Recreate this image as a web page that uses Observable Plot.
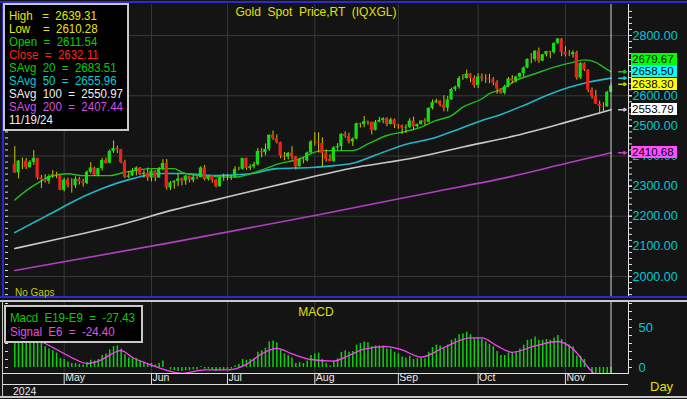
<!DOCTYPE html>
<html><head><meta charset="utf-8">
<script src="https://cdn.jsdelivr.net/npm/d3@7"></script>
<script src="https://cdn.jsdelivr.net/npm/@observablehq/plot@0.6"></script>
<style>
html,body{margin:0;padding:0;background:#141414;}
#root{position:relative;width:687px;height:399px;overflow:hidden;background:#141414;font-family:"Liberation Sans",Arial,sans-serif;}
.abs{position:absolute;white-space:pre;line-height:1;}
svg{display:block}
</style></head><body><div id="root"></div>
<script>
// ---------- DATA ----------
const openP = [2373,2344,2383,2383,2361,2379,2392,2327,2322,2316,
2332,2337,2335,2286,2320,2303,2301,2323,2314,2309,
2346,2360,2336,2358,2385,2376,2415,2425,2420,2378,
2329,2334,2350,2360,2338,2343,2327,2350,2327,2355,
2375,2294,2311,2316,2324,2317,2333,2319,2329,2328,
2360,2322,2334,2319,2298,2327,2326,2327,2330,2356,
2356,2392,2359,2364,2371,2415,2411,2422,2469,2459,
2445,2400,2396,2409,2397,2364,2387,2384,2410,2447,
2446,2442,2409,2389,2382,2427,2431,2472,2465,2447,
2456,2507,2504,2514,2512,2485,2512,2518,2524,2505,
2520,2503,2500,2493,2495,2516,2497,2505,2516,2512,
2558,2577,2582,2569,2559,2586,2621,2628,2657,2657,
2672,2658,2634,2662,2657,2656,2653,2643,2622,2608,
2630,2656,2649,2662,2674,2692,2721,2720,2748,2715,
2736,2747,2743,2774,2788,2744,2736,2736,2743,2659,
2707,2685,2618,2598,2572,2565,2563,2611.54];
const highP = [2431,2385,2393,2392,2385,2418,2392,2336,2338,2338,
2352,2346,2336,2326,2327,2325,2331,2329,2323,2350,
2378,2363,2359,2392,2393,2420,2450,2433,2422,2386,
2348,2358,2364,2362,2351,2360,2354,2352,2362,2388,
2388,2315,2318,2342,2327,2336,2333,2336,2333,2365,
2369,2335,2335,2322,2331,2340,2339,2335,2365,2363,
2392,2393,2371,2379,2425,2425,2440,2470,2483,2470,
2446,2412,2412,2431,2399,2391,2394,2413,2451,2477,
2477,2460,2420,2404,2431,2441,2474,2480,2476,2460,
2509,2509,2531,2516,2512,2518,2528,2527,2527,2526,
2523,2505,2503,2503,2524,2529,2506,2517,2524,2560,
2586,2589,2584,2600,2598,2625,2632,2664,2670,2685,
2674,2666,2673,2672,2670,2671,2660,2650,2624,2635,
2661,2667,2665,2675,2696,2722,2740,2749,2758,2737,
2747,2748,2775,2790,2790,2763,2750,2749,2748,2710,
2709,2686,2626,2618,2582,2577,2615,2639.31];
const lowP = [2342,2324,2355,2355,2360,2369,2320,2292,2310,2306,
2326,2325,2285,2281,2294,2277,2292,2304,2297,2305,
2340,2332,2331,2350,2373,2374,2409,2408,2374,2325,
2325,2332,2334,2334,2326,2316,2314,2315,2326,2351,
2287,2286,2290,2298,2301,2303,2311,2311,2321,2328,
2317,2317,2310,2294,2297,2316,2318,2319,2326,2351,
2353,2353,2352,2357,2367,2395,2401,2415,2452,2440,
2391,2384,2387,2387,2353,2364,2374,2380,2409,2433,
2410,2364,2380,2381,2379,2419,2418,2459,2440,2432,
2454,2493,2494,2502,2470,2483,2510,2507,2497,2503,
2491,2489,2472,2475,2491,2485,2493,2502,2500,2510,
2553,2574,2563,2547,2546,2585,2614,2622,2651,2655,
2643,2625,2624,2646,2641,2640,2633,2605,2605,2603,
2627,2640,2642,2657,2661,2690,2706,2712,2708,2713,
2729,2723,2738,2770,2730,2729,2730,2725,2652,2654,
2680,2610,2589,2572,2537,2545,2562,2610.28];
const closeP = [2344,2383,2383,2361,2379,2392,2327,2322,2316,2332,
2337,2335,2286,2320,2303,2301,2323,2314,2309,2346,
2360,2336,2358,2385,2376,2415,2425,2420,2378,2329,
2334,2350,2360,2338,2343,2327,2350,2327,2355,2375,
2294,2311,2316,2324,2317,2333,2319,2329,2328,2360,
2322,2334,2319,2298,2327,2326,2327,2330,2356,2356,
2392,2359,2364,2371,2415,2411,2422,2469,2459,2445,
2400,2396,2409,2397,2364,2387,2384,2410,2447,2446,
2442,2409,2389,2382,2427,2431,2472,2465,2447,2456,
2507,2504,2514,2512,2485,2512,2518,2524,2505,2520,
2503,2500,2493,2495,2516,2497,2505,2516,2512,2558,
2577,2582,2569,2559,2586,2621,2628,2657,2657,2672,
2658,2634,2662,2657,2656,2653,2643,2622,2608,2630,
2656,2649,2662,2674,2692,2721,2720,2748,2715,2736,
2747,2743,2774,2788,2744,2736,2736,2743,2659,2707,
2685,2618,2598,2572,2565,2563,2611,2632.11];

// moving averages (bar index, value)
const sma20I = [0,3,6,9,14,18,25,29,36,42,44,49,58,61,66,69,75,78,81,89,93,98,102,107,111,115,118,123,125,128,132,137,142,147,150,153,155,157];
const sma20V = [2254,2285,2310,2330,2341,2335,2335,2346,2358,2358,2346,2335,2330,2337,2358,2372,2391,2408,2418,2418,2440,2468,2479,2496,2518,2534,2562,2590,2607,2620,2651,2673,2695,2711,2719,2711,2695,2679.67];
const sma50I = [0,6,11,14,23,31,38,44,53,62,69,78,84,89,95,102,111,117,123,128,134,140,146,151,157];
const sma50V = [2146,2186,2219,2240,2292,2325,2342,2342,2335,2341,2358,2362,2368,2376,2403,2435,2462,2490,2518,2538,2568,2601,2628,2645,2658.5];
const sma100I = [0,12,28,42,52,62,73,88,106,118,132,146,157];
const sma100V = [2093,2126,2173,2222,2252,2282,2315,2358,2396,2430,2468,2515,2553.79];
const sma200I = [0,40,80,110,130,145,157];
const sma200V = [2020,2110,2205,2280,2330,2375,2410.68];

// MACD histogram (E19-E9) per bar and signal line (E6)
const macdV = [48,47,46,43,42,42,36,31,26,23,
21,18,11,10,7,5,5,4,3,6,
9,8,10,15,17,22,26,27,23,16,
12,11,11,8,7,4,5,3,5,8,
0,-3,-4,-5,-5,-4,-4,-3,-3,1,
-2,-2,-3,-5,-4,-4,-3,-2,2,4,
10,9,10,11,19,21,24,32,33,31,
22,17,15,12,5,6,5,8,15,17,
18,10,5,2,8,11,19,21,19,20,
28,30,32,31,26,27,27,27,23,23,
19,17,13,12,14,10,11,12,11,19,
25,28,27,25,28,34,36,41,42,44,
41,36,37,35,32,29,26,20,15,15,
18,18,20,23,28,34,35,38,34,34,
35,34,37,40,35,31,28,26,14,14,
10,-1,-9,-18,-24,-29,-29,-27.43];
const sigI = [0,4,8,12,16,19,22,28,31,36,42,44,50,56,61,65,69,73,78,84,88,92,98,102,107,113,120,123,127,131,137,143,147,151,154,157];
const sigV = [44,40,30,20,10,5,8,21,12.5,3,-6,-7.5,-3,-3,4,17,24,17,10,8,15,23,26,22,13,25,37,37,27,19,27,32.5,23,0,-14,-24.4];

// axis / labels
const monthIdx = [13,36,56,79,101,122,145];
const monthLab = ["May","Jun","Jul","Aug","Sep","Oct","Nov"];
const priceTicks = [2000,2100,2200,2300,2400,2500,2600,2700,2800];
const priceLabelTicks = [2000,2100,2200,2300,2400,2500,2600,2800]; // 2700 is covered by the value tags
const priceGrid = [2000,2200,2400,2600,2800];
const macdTicks = [0,50];

const legendNames = ["High   =","Low    =","Open  =","Close  =","SAvg  20  =","SAvg  50  =","SAvg  100  =","SAvg  200  ="];
const legendVals = [2639.31,2610.28,2611.54,2632.11,2683.51,2655.96,2550.97,2407.44];
const legendCols = ["#e8e800","#e8e800","#00d000","#ff2020","#00d000","#00d0d0","#f0f0f0","#d050e0"];
const legendDate = "11/19/24";

const tagVals = [2679.67,2658.50,2638.30,2553.79,2410.68];
const tagBg = ["#00ff00","#00ffff","#ffff00","#ffffff","#ff50ff"];
const tagArrow = ["#20c020","#20c8c8","#c8c800","#c8c8c8","#c040c0"];

// ---------- BUILD ----------
const root = document.getElementById("root");
const bars = closeP.map((c,i)=>({i,o:openP[i],h:highP[i],l:lowP[i],c}));
const toPts = (I,V)=>I.map((i,k)=>({i,v:V[k]}));
const xDomain = [-1.66, 161.6];
const lastI = closeP.length-1;
const GRID = "#383838";
const noLab = {label:null};

const price = Plot.plot({
  width:687, height:299, marginLeft:8, marginRight:59, marginTop:4, marginBottom:2,
  x:{domain:xDomain, axis:null, label:null},
  y:{domain:[1930.4, 2902.9], axis:null, label:null},
  style:{background:"none", color:"#ffffff", fontFamily:"Liberation Sans, Arial, sans-serif"},
  marks:[
    Plot.gridY(priceGrid,{stroke:GRID,strokeOpacity:1}),
    Plot.gridX(monthIdx,{stroke:GRID,strokeOpacity:1}),
    Plot.line(toPts(sma200I,sma200V),{x:"i",y:"v",stroke:"#b040c0",strokeWidth:1.6,curve:"monotone-x"}),
    Plot.line(toPts(sma100I,sma100V),{x:"i",y:"v",stroke:"#c8c8c8",strokeWidth:1.6,curve:"monotone-x"}),
    Plot.line(toPts(sma50I,sma50V),{x:"i",y:"v",stroke:"#1fb8c8",strokeWidth:1.6,curve:"monotone-x"}),
    Plot.line(toPts(sma20I,sma20V),{x:"i",y:"v",stroke:"#1fbf1f",strokeWidth:1.4,curve:"monotone-x"}),
    Plot.ruleX(bars,{x:"i",y1:"l",y2:"h",stroke:"#c8c800",strokeWidth:1}),
    Plot.rect(bars,{x1:d=>d.i-0.42,x2:d=>d.i+0.42,y1:"o",y2:"c",fill:d=>d.c>=d.o?"#10e010":"#f02020"}),
    Plot.ruleX([lastI],{stroke:"#d8d8d8",strokeWidth:1}),
    Plot.ruleX([xDomain[1]],{stroke:"#e0e0e0",strokeWidth:1}),
    Plot.axisY(d3.range(1940,2900,20),{anchor:"right",tickSize:3,tickFormat:()=>"",stroke:"#e0e0e0",...noLab}),
    Plot.axisY(d3.range(1940,2900,20),{anchor:"left",tickSize:3,tickFormat:()=>"",stroke:"#e0e0e0",...noLab}),
    Plot.axisY(priceTicks,{anchor:"right",tickSize:3,tickFormat:()=>"",stroke:"#e0e0e0",...noLab}),
    Plot.axisY(priceLabelTicks,{anchor:"right",tickSize:3,tickPadding:1,tickFormat:d=>d.toFixed(2),fill:"#00c8d8",fontSize:12.5,stroke:"#e0e0e0",...noLab}),
    Plot.arrow(tagVals.map((v,k)=>({v,k})),{x1:159.0,x2:161.0,y:"v",stroke:d=>tagArrow[d.k],strokeWidth:1.5,headLength:4})
  ]
});
price.style.position="absolute"; price.style.left="0px"; price.style.top="0px";
root.appendChild(price);

const macd = Plot.plot({
  width:687, height:83, marginLeft:8, marginRight:59, marginTop:0, marginBottom:11,
  x:{domain:xDomain, axis:null, label:null},
  y:{domain:[-8.75,81.25], axis:null, label:null},
  style:{background:"none", color:"#ffffff", fontFamily:"Liberation Sans, Arial, sans-serif"},
  marks:[
    Plot.gridX(monthIdx,{stroke:GRID,strokeOpacity:1}),
    Plot.ruleX(macdV.map((v,i)=>({i,v})),{x:"i",y1:0,y2:"v",stroke:"#10d010",strokeWidth:1.5,clip:true}),
    Plot.line(toPts(sigI,sigV),{x:"i",y:"v",stroke:"#ff40ff",strokeWidth:1.3,curve:"monotone-x",clip:true}),
    Plot.ruleX([lastI],{stroke:"#d8d8d8",strokeWidth:1}),
    Plot.ruleX([xDomain[1]],{stroke:"#e0e0e0",strokeWidth:1}),
    Plot.axisY(d3.range(0,81,10),{anchor:"right",tickSize:3,tickFormat:()=>"",stroke:"#e0e0e0",...noLab}),
    Plot.axisY(d3.range(0,81,10),{anchor:"left",tickSize:3,tickFormat:()=>"",stroke:"#e0e0e0",...noLab}),
    Plot.axisY(macdTicks,{anchor:"right",tickSize:3,tickPadding:7,fill:"#00c8d8",fontSize:13,stroke:"#e0e0e0",...noLab}),
    Plot.axisX(monthIdx,{anchor:"bottom",tickSize:11,tickFormat:()=>"",stroke:"#e0e0e0",...noLab}),
    Plot.text(monthIdx.map((i,k)=>({i,t:monthLab[k]})),{x:"i",text:"t",frameAnchor:"bottom",dy:6,dx:1,textAnchor:"start",fill:"#e8e8e8",fontSize:10.5})
  ]
});
macd.style.position="absolute"; macd.style.left="0px"; macd.style.top="302px";
root.appendChild(macd);

// ---------- HTML overlays ----------
function box(l,t,w,h,css){const d=document.createElement("div");d.className="abs";d.style.cssText+=`left:${l}px;top:${t}px;width:${w}px;height:${h}px;`+css;root.appendChild(d);return d;}
function txt(s,l,t,css){const d=document.createElement("div");d.className="abs";d.textContent=s;d.style.cssText+=`left:${l}px;top:${t}px;`+css;root.appendChild(d);return d;}

// panel borders
box(0,1,687,2,"background:#2a2ad0;");
box(2,1,2,297,"background:#2a2ad0;");
box(0,296,687,2,"background:#2a2ad0;");
box(0,300,687,2,"background:#c8c8c8;");
box(2,302,1,95,"background:#c8c8c8;");
box(3,373,625,1,"background:#e0e0e0;");
box(3,384,625,1,"background:#e0e0e0;");
box(0,396,687,2,"background:#c8c8c8;");

// title
txt("Gold  Spot  Price,RT  (IQXGL)",0,6,"width:632px;text-align:center;color:#e0e000;font-size:12px;");
txt("No Gaps",15,288,"color:#c8c800;font-size:10px;");

// legend box
box(3,3,126,128,"background:#000;border:2px solid #c8c8c8;box-sizing:border-box;");
legendNames.forEach((n,k)=>txt(`${n}  ${legendVals[k].toFixed(2)}`,9,10+13*k,`color:${legendCols[k]};font-size:11.5px;transform:scaleY(1.12);transform-origin:0 0;`));
txt(legendDate,9,10+13*8,"color:#f0f0f0;font-size:11.5px;transform:scaleY(1.12);transform-origin:0 0;");

// MACD legend
box(4,305,139,38,"background:#000;border:2px solid #c8c8c8;box-sizing:border-box;");
txt("Macd  E19-E9  =  -27.43",10,312,"color:#00d000;font-size:11.5px;transform:scaleY(1.12);transform-origin:0 0;");
txt("Signal  E6  =  -24.40",10,326,"color:#e050e0;font-size:11.5px;transform:scaleY(1.12);transform-origin:0 0;");
txt("MACD",0,306,"width:632px;text-align:center;color:#e0e000;font-size:12px;");

txt("2024",13,386,"color:#e8e8e8;font-size:10.5px;");
txt("Day",650,380,"color:#e0e000;font-size:13px;");

// value tags on the price axis, stacked to avoid overlap
const ys = price.scale("y");
const order = tagVals.map((v,k)=>k).sort((a,b)=>tagVals[a]-tagVals[b]);
let prev = Infinity;
order.forEach(k=>{
  let y = ys.apply(tagVals[k]);
  if (y > prev-12.5) y = prev-12.5;
  prev = y;
  const d = box(631,Math.round(y-6),46,12,`background:${tagBg[k]};`);
  d.textContent = tagVals[k].toFixed(2);
  d.style.cssText += "color:#000;font-size:11.5px;line-height:12px;padding-left:1px;box-sizing:border-box;overflow:hidden;";
});
</script></body></html>
